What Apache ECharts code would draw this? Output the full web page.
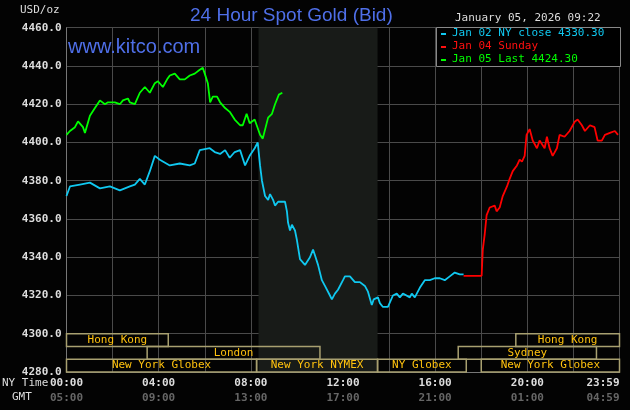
<!DOCTYPE html>
<html><head><meta charset="utf-8">
<script src="https://cdn.jsdelivr.net/npm/echarts@6/dist/echarts.min.js"></script>
<style>html,body{margin:0;padding:0;background:#000}#c{width:630px;height:410px}</style>
</head><body><div id="c"></div>
<script>
// minutes after 00:00 NY time, price
const jan02 = [[0,4372],[9,4377],[35,4378],[61,4379],[87,4376],[113,4377],[139,4375],[165,4377],[178,4378],[191,4381],[204,4378],[217,4385],[230,4393],[243,4391],[269,4388],[295,4389],[321,4388],[334,4389],[347,4396],[373,4397],[386,4395],[400,4394],[413,4396],[425,4392],[438,4395],[452,4396],[465,4388],[477,4393],[490,4397],[498,4400],[504,4388],[509,4380],[517,4372],[525,4370],[530,4373],[538,4370],[543,4367],[551,4369],[569,4369],[574,4364],[577,4358],[582,4354],[587,4357],[595,4354],[600,4349],[608,4339],[621,4336],[634,4340],[642,4344],[647,4341],[655,4336],[665,4328],[673,4325],[686,4320],[691,4318],[699,4321],[707,4323],[712,4323],[720,4328],[725,4330],[738,4330],[751,4327],[764,4327],[777,4325],[785,4322],[795,4315],[800,4318],[811,4319],[816,4316],[824,4314],[829,4313],[837,4314],[842,4315],[850,4320],[860,4321],[868,4319],[876,4321],[881,4322],[894,4319],[899,4321],[907,4319],[920,4324],[933,4328],[946,4328],[959,4329],[972,4329],[985,4328],[998,4330],[1011,4332],[1024,4331],[1034,4331]];
const jan04 = [[1034,4330.3],[1081,4330.3],[1084,4344],[1089,4352],[1094,4362],[1102,4366],[1115,4367],[1120,4364],[1128,4366],[1136,4372],[1147,4377],[1154,4381],[1162,4385],[1173,4388],[1180,4391],[1186,4390],[1193,4393],[1198,4404],[1206,4407],[1214,4401],[1225,4397],[1232,4401],[1245,4397],[1251,4403],[1258,4397],[1266,4393],[1277,4397],[1284,4404],[1297,4403],[1310,4406],[1324,4411],[1331,4412],[1342,4409],[1350,4406],[1363,4409],[1375,4408],[1383,4401],[1394,4401],[1402,4404],[1415,4405],[1428,4406],[1436,4404]];
const jan05 = [[0,4404],[9,4406],[22,4408],[30,4411],[35,4410],[43,4408],[48,4405],[61,4414],[74,4418],[87,4422],[92,4423],[100,4420],[108,4421],[113,4420],[126,4421],[139,4420],[147,4422],[160,4423],[165,4421],[178,4420],[191,4426],[204,4429],[217,4426],[230,4431],[238,4432],[251,4429],[262,4433],[269,4435],[282,4436],[295,4433],[308,4433],[321,4435],[334,4436],[347,4438],[355,4439],[360,4436],[368,4431],[374,4421],[381,4424],[392,4424],[400,4421],[413,4418],[425,4416],[438,4412],[452,4409],[459,4409],[469,4415],[477,4410],[490,4412],[504,4404],[511,4402],[525,4413],[535,4415],[543,4420],[553,4425],[562,4426]];
// sessions: [start min, end min, row (0 top), label]
const sessions = [[0,265,0,'Hong Kong'],[1170,1440,0,'Hong Kong'],[210,660,1,'London'],[1020,1380,1,'Sydney'],[0,495,2,'New York Globex'],[495,810,2,'New York NYMEX'],[810,1041,2,'NY Globex'],[1080,1440,2,'New York Globex']];
const nymex = [500,810];
const nyTicks = {0:'00:00',240:'04:00',480:'08:00',720:'12:00',960:'16:00',1200:'20:00',1440:'23:59'};
const gmtTicks = {0:'05:00',240:'09:00',480:'13:00',720:'17:00',960:'21:00',1200:'01:00',1440:'04:59'};
const legendItems = [['Jan 02 NY close 4330.30','#10c8f0'],['Jan 04 Sunday','#ff1010'],['Jan 05 Last 4424.30','#00ff00']];
const mono = 'DejaVu Sans Mono';
const rowH = 20/3;
const chart = echarts.init(document.getElementById('c'));
const graphics = [
  {type:'text',left:20,top:5,style:{text:'USD/oz',fill:'#ddd',font:'11px '+mono}},
  {type:'text',left:190,top:6,style:{text:'24 Hour Spot Gold (Bid)',fill:'#4f6fe8',font:'19px "Liberation Sans"'}},
  {type:'text',left:455,top:13,style:{text:'January 05, 2026 09:22',fill:'#ddd',font:'11px '+mono}},
  {type:'text',left:68,top:37,z:10,style:{text:'www.kitco.com',fill:'#4f6fe8',font:'20px "Liberation Sans"'}},
  {type:'rect',left:436,top:27,z:10,shape:{width:184,height:39},style:{fill:'#000',stroke:'#888',lineWidth:1}},
  {type:'text',left:2,top:378,style:{text:'NY Time',fill:'#ddd',font:'11px '+mono}},
  {type:'text',left:12,top:392,style:{text:'GMT',fill:'#ddd',font:'11px '+mono}}
];
legendItems.forEach((l,i)=>{
  graphics.push({type:'rect',left:441,top:33+i*13,z:11,shape:{width:5,height:2},style:{fill:l[1]}});
  graphics.push({type:'text',left:452,top:28+i*13,z:11,style:{text:l[0],fill:l[1],font:'11px '+mono}});
});
chart.setOption({
  backgroundColor:'#030303',
  animation:false,
  grid:{left:66.5,right:10.5,top:27.7,bottom:38,outerBoundsMode:'none',containLabel:false},
  xAxis:{type:'value',min:0,max:1440,interval:120,
    axisLine:{lineStyle:{color:'#777'}},axisTick:{show:false},
    splitLine:{show:true,lineStyle:{color:'#4a4a4a'}},
    axisLabel:{showMinLabel:true,showMaxLabel:true,alignMaxLabel:'right',margin:4,formatter:v=>nyTicks[v]!==undefined?'{a|'+nyTicks[v]+'}\n{b|'+gmtTicks[v]+'}':'',
      rich:{a:{color:'#ddd',fontFamily:mono,fontSize:11,fontWeight:'bold',lineHeight:15},b:{color:'#666',fontFamily:mono,fontSize:11,fontWeight:'bold',lineHeight:15}}}},
  yAxis:{type:'value',min:4280,max:4460,interval:20,
    axisLine:{show:true,lineStyle:{color:'#777'}},axisTick:{show:false},
    splitLine:{lineStyle:{color:'#4a4a4a'}},
    axisLabel:{color:'#ddd',fontFamily:mono,fontSize:11,fontWeight:'bold',margin:5,formatter:v=>v.toFixed(1)}},
  graphic:graphics,
  series:[
    {type:'line',data:[],markArea:{silent:true,itemStyle:{color:'#181b18'},data:[[{xAxis:nymex[0]},{xAxis:nymex[1]}]]},z:0},
    {type:'custom',z:3,data:sessions,renderItem:(p,api)=>{
      const s=api.value(0),e=api.value(1),r=api.value(2);
      const top=4300-r*rowH, bot=top-rowH;
      const a=api.coord([s,top]), b=api.coord([e,bot]);
      const lab=sessions[p.dataIndex][3];
      return {type:'group',children:[
        {type:'rect',shape:{x:a[0],y:a[1],width:b[0]-a[0],height:b[1]-a[1]},style:{fill:null,stroke:'#a8a070',lineWidth:1.5}},
        {type:'text',style:{text:lab,x:(a[0]+b[0])/2,y:(a[1]+b[1])/2,align:'center',verticalAlign:'middle',fill:'#ffc20e',font:'11px '+mono}}
      ]};
    }},
    {type:'line',data:jan02,showSymbol:false,lineStyle:{color:'#10c8f0',width:1.8},z:4},
    {type:'line',data:jan04,showSymbol:false,lineStyle:{color:'#ff0000',width:1.8},z:4},
    {type:'line',data:jan05,showSymbol:false,lineStyle:{color:'#00ff00',width:1.8},z:4}
  ]
});
</script></body></html>
